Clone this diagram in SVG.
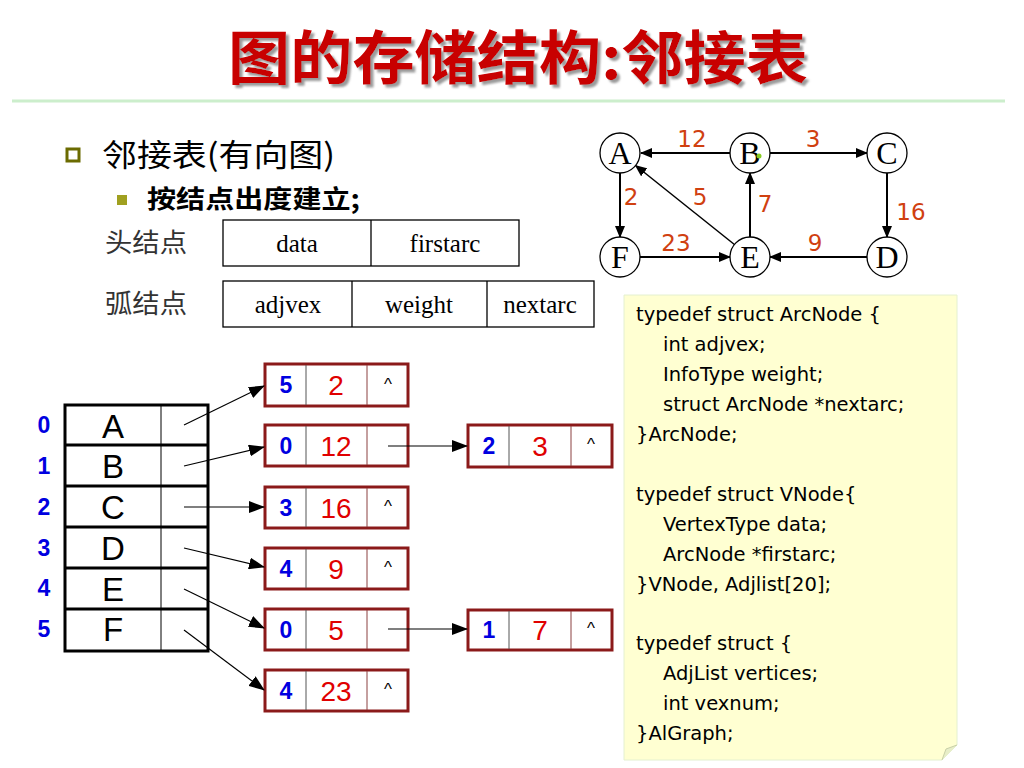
<svg xmlns="http://www.w3.org/2000/svg" width="1024" height="768" viewBox="0 0 1024 768">
<defs>
<marker id="arr" markerUnits="userSpaceOnUse" markerWidth="16" markerHeight="12" refX="15" refY="6" orient="auto">
<path d="M0,0 L16,6 L0,12 Z" fill="#000"/>
</marker>
<marker id="arrs" markerUnits="userSpaceOnUse" markerWidth="12" markerHeight="10" refX="11" refY="5" orient="auto">
<path d="M0,0 L12,5 L0,10 Z" fill="#000"/>
</marker>
<filter id="shadow" x="-5%" y="-20%" width="110%" height="140%">
<feDropShadow dx="3" dy="3" stdDeviation="0.8" flood-color="#909090" flood-opacity="0.9"/>
</filter>
</defs>
<style>
.cjk{font-family:"Noto Sans CJK SC","Noto Sans",sans-serif}
.code{font-family:"DejaVu Sans",Verdana,sans-serif;font-size:19.5px;fill:#000}
.wt{font-family:"DejaVu Sans",Verdana,sans-serif;font-size:23px;fill:#D04010;text-anchor:middle}
.vc{fill:#fff;stroke:#000;stroke-width:1.3}
.vl{font-family:"Liberation Serif",serif;font-size:32px;text-anchor:middle}
.edge{stroke:#000;stroke-width:2;fill:none}
.arc{fill:#fff;stroke:#8B1A1A;stroke-width:3}
.div{stroke:#555;stroke-width:1}
.div2{stroke:#8B4040;stroke-width:1}
.idx{font-family:"Liberation Sans",Arial,sans-serif;font-size:23px;font-weight:bold;fill:#0000E0;text-anchor:middle}
.wv{font-family:"Liberation Sans",Arial,sans-serif;font-size:28px;fill:#E00000;text-anchor:middle}
.nil{font-family:"Liberation Sans",Arial,sans-serif;font-size:17px;fill:#000;text-anchor:middle}
.vt{font-family:"Liberation Sans",Arial,sans-serif;font-size:33px;fill:#000;text-anchor:middle}
.num{font-family:"Liberation Sans",Arial,sans-serif;font-size:23px;font-weight:bold;fill:#0000E0;text-anchor:middle}
.lnk{stroke:#000;stroke-width:1.2;fill:none}
.fld{fill:#fff;stroke:#000;stroke-width:1.3}
.ft{font-family:"Liberation Serif",serif;font-size:25px;text-anchor:middle}
.ttl{font-size:58px;font-weight:bold}
</style>
<rect width="1024" height="768" fill="#fff"/>

<g id="title">
<text x="228" y="79" class="cjk ttl" fill="#C80000" filter="url(#shadow)" textLength="580" lengthAdjust="spacingAndGlyphs">图的存储结构:邻接表</text>
</g>
<line x1="12" y1="101" x2="1005" y2="101" stroke="#CCEECC" stroke-width="3"/>

<g id="bullets">
<rect x="67" y="149" width="12" height="12" fill="none" stroke="#6B6B00" stroke-width="3"/>
<text x="102" y="166" class="cjk" font-size="31" textLength="233" lengthAdjust="spacingAndGlyphs">邻接表(有向图)</text>
<rect x="117" y="195" width="10" height="10" fill="#A0A020"/>
<text x="147" y="208" class="cjk" font-size="25" font-weight="bold" textLength="213" lengthAdjust="spacingAndGlyphs">按结点出度建立;</text>
</g>

<g id="head-node-format">
<text x="105" y="252" class="cjk" font-size="26" fill="#333" textLength="82" lengthAdjust="spacingAndGlyphs">头结点</text>
<rect x="223" y="220" width="296" height="46" class="fld"/>
<line x1="371" y1="220" x2="371" y2="266" stroke="#000" stroke-width="1.3"/>
<text x="297" y="252" class="ft">data</text>
<text x="445" y="252" class="ft">firstarc</text>
</g>
<g id="arc-node-format">
<text x="105" y="313" class="cjk" font-size="26" fill="#333" textLength="82" lengthAdjust="spacingAndGlyphs">弧结点</text>
<rect x="223" y="281" width="371" height="46" class="fld"/>
<line x1="352" y1="281" x2="352" y2="327" stroke="#000" stroke-width="1.3"/>
<line x1="487" y1="281" x2="487" y2="327" stroke="#000" stroke-width="1.3"/>
<text x="288" y="313" class="ft">adjvex</text>
<text x="419" y="313" class="ft">weight</text>
<text x="540" y="313" class="ft">nextarc</text>
</g>

<g id="graph-edges">
<line x1="730" y1="153" x2="641" y2="153" class="edge" marker-end="url(#arrs)"/>
<line x1="770" y1="153" x2="867" y2="153" class="edge" marker-end="url(#arrs)"/>
<line x1="620" y1="173" x2="620" y2="237" class="edge" marker-end="url(#arrs)"/>
<line x1="887" y1="173" x2="887" y2="237" class="edge" marker-end="url(#arrs)"/>
<line x1="640" y1="257" x2="730" y2="257" class="edge" marker-end="url(#arrs)"/>
<line x1="867" y1="257" x2="770" y2="257" class="edge" marker-end="url(#arrs)"/>
<line x1="750" y1="237" x2="750" y2="173" class="edge" marker-end="url(#arrs)"/>
<line x1="734.4" y1="244.5" x2="635.6" y2="165.5" stroke="#000" stroke-width="1.5" marker-end="url(#arrs)"/>
</g>
<g id="graph-weights">
<text x="692" y="147" class="wt">12</text>
<text x="813" y="147" class="wt">3</text>
<text x="631" y="205" class="wt">2</text>
<text x="700" y="205" class="wt">5</text>
<text x="765" y="212" class="wt">7</text>
<text x="911" y="220" class="wt">16</text>
<text x="676" y="251" class="wt">23</text>
<text x="815" y="251" class="wt">9</text>
</g>
<g id="vA"><circle cx="620" cy="153" r="20" class="vc"/><text x="620" y="164" class="vl">A</text></g>
<g id="vB"><circle cx="750" cy="153" r="20" class="vc"/><text x="750" y="164" class="vl">B</text><circle cx="759" cy="156" r="2.5" fill="#88CC22"/></g>
<g id="vC"><circle cx="887" cy="153" r="20" class="vc"/><text x="887" y="164" class="vl">C</text></g>
<g id="vF"><circle cx="620" cy="257" r="20" class="vc"/><text x="620" y="268" class="vl">F</text></g>
<g id="vE"><circle cx="750" cy="257" r="20" class="vc"/><text x="750" y="268" class="vl">E</text></g>
<g id="vD"><circle cx="887" cy="257" r="20" class="vc"/><text x="887" y="268" class="vl">D</text></g>

<g id="vertex-table">
<rect x="65" y="405" width="143" height="246" fill="#fff" stroke="#000" stroke-width="3"/>
<line x1="65" y1="445" x2="208" y2="445" stroke="#000" stroke-width="3"/>
<line x1="65" y1="486" x2="208" y2="486" stroke="#000" stroke-width="3"/>
<line x1="65" y1="527" x2="208" y2="527" stroke="#000" stroke-width="3"/>
<line x1="65" y1="568" x2="208" y2="568" stroke="#000" stroke-width="3"/>
<line x1="65" y1="609" x2="208" y2="609" stroke="#000" stroke-width="3"/>
<line x1="161" y1="405" x2="161" y2="651" stroke="#000" stroke-width="1"/>
<text x="113" y="438" class="vt">A</text>
<text x="113" y="478" class="vt">B</text>
<text x="113" y="519" class="vt">C</text>
<text x="113" y="560" class="vt">D</text>
<text x="113" y="601" class="vt">E</text>
<text x="113" y="641" class="vt">F</text>
<text x="44" y="433" class="num">0</text>
<text x="44" y="474" class="num">1</text>
<text x="44" y="515" class="num">2</text>
<text x="44" y="556" class="num">3</text>
<text x="44" y="596" class="num">4</text>
<text x="44" y="637" class="num">5</text>
</g>

<g id="arc-A0">
<rect x="265" y="364" width="143" height="42" class="arc"/>
<line x1="306" y1="365" x2="306" y2="405" class="div"/><line x1="367" y1="365" x2="367" y2="405" class="div2"/>
<text x="286" y="393" class="idx">5</text><text x="336" y="395" class="wv">2</text><text x="388" y="390" class="nil">^</text>
</g>
<g id="arc-B0">
<rect x="265" y="425" width="143" height="41" class="arc"/>
<line x1="306" y1="426" x2="306" y2="465" class="div"/><line x1="367" y1="426" x2="367" y2="465" class="div2"/>
<text x="286" y="454" class="idx">0</text><text x="336" y="456" class="wv">12</text>
</g>
<g id="arc-C0">
<rect x="265" y="487" width="143" height="41" class="arc"/>
<line x1="306" y1="488" x2="306" y2="527" class="div"/><line x1="367" y1="488" x2="367" y2="527" class="div2"/>
<text x="286" y="516" class="idx">3</text><text x="336" y="518" class="wv">16</text><text x="388" y="512" class="nil">^</text>
</g>
<g id="arc-D0">
<rect x="265" y="548" width="143" height="41" class="arc"/>
<line x1="306" y1="549" x2="306" y2="588" class="div"/><line x1="367" y1="549" x2="367" y2="588" class="div2"/>
<text x="286" y="577" class="idx">4</text><text x="336" y="579" class="wv">9</text><text x="388" y="573" class="nil">^</text>
</g>
<g id="arc-E0">
<rect x="265" y="609" width="143" height="41" class="arc"/>
<line x1="306" y1="610" x2="306" y2="649" class="div"/><line x1="367" y1="610" x2="367" y2="649" class="div2"/>
<text x="286" y="638" class="idx">0</text><text x="336" y="640" class="wv">5</text>
</g>
<g id="arc-F0">
<rect x="265" y="670" width="143" height="41" class="arc"/>
<line x1="306" y1="671" x2="306" y2="710" class="div"/><line x1="367" y1="671" x2="367" y2="710" class="div2"/>
<text x="286" y="699" class="idx">4</text><text x="336" y="701" class="wv">23</text><text x="388" y="695" class="nil">^</text>
</g>
<g id="arc-B1">
<rect x="468" y="425" width="144" height="42" class="arc"/>
<line x1="509" y1="426" x2="509" y2="466" class="div"/><line x1="571" y1="426" x2="571" y2="466" class="div2"/>
<text x="489" y="454" class="idx">2</text><text x="540" y="456" class="wv">3</text><text x="591" y="450" class="nil">^</text>
</g>
<g id="arc-E1">
<rect x="468" y="610" width="144" height="40" class="arc"/>
<line x1="509" y1="611" x2="509" y2="649" class="div"/><line x1="571" y1="611" x2="571" y2="649" class="div2"/>
<text x="489" y="638" class="idx">1</text><text x="540" y="640" class="wv">7</text><text x="591" y="634" class="nil">^</text>
</g>

<g id="list-connectors">
<line x1="184" y1="425" x2="264" y2="386" class="lnk" marker-end="url(#arr)"/>
<line x1="184" y1="466" x2="264" y2="447" class="lnk" marker-end="url(#arr)"/>
<line x1="184" y1="507" x2="264" y2="507" class="lnk" marker-end="url(#arr)"/>
<line x1="184" y1="548" x2="264" y2="567" class="lnk" marker-end="url(#arr)"/>
<line x1="184" y1="589" x2="264" y2="628" class="lnk" marker-end="url(#arr)"/>
<line x1="184" y1="630" x2="264" y2="690" class="lnk" marker-end="url(#arr)"/>
<line x1="388" y1="446" x2="467" y2="446" class="lnk" marker-end="url(#arr)"/>
<line x1="388" y1="629" x2="467" y2="629" class="lnk" marker-end="url(#arr)"/>
</g>

<g id="code-box">
<path d="M624,295 L957,295 L957,745 L942,760 L624,760 Z" fill="#FFFFD2" stroke="#E4F0D0" stroke-width="1"/>
<path d="M942,760 L946,749 L957,745" fill="#E8EEC8" stroke="#C8D0A8" stroke-width="1"/>
<text class="code">
<tspan x="636" y="321">typedef struct ArcNode {</tspan>
<tspan x="663" y="351">int adjvex;</tspan>
<tspan x="663" y="381">InfoType weight;</tspan>
<tspan x="663" y="411">struct ArcNode *nextarc;</tspan>
<tspan x="636" y="441">}ArcNode;</tspan>
<tspan x="636" y="501">typedef struct VNode{</tspan>
<tspan x="663" y="531">VertexType data;</tspan>
<tspan x="663" y="561">ArcNode *firstarc;</tspan>
<tspan x="636" y="591">}VNode, Adjlist[20];</tspan>
<tspan x="636" y="650">typedef struct {</tspan>
<tspan x="663" y="680">AdjList vertices;</tspan>
<tspan x="663" y="710">int vexnum;</tspan>
<tspan x="636" y="740">}AlGraph;</tspan>
</text>
</g>
</svg>
